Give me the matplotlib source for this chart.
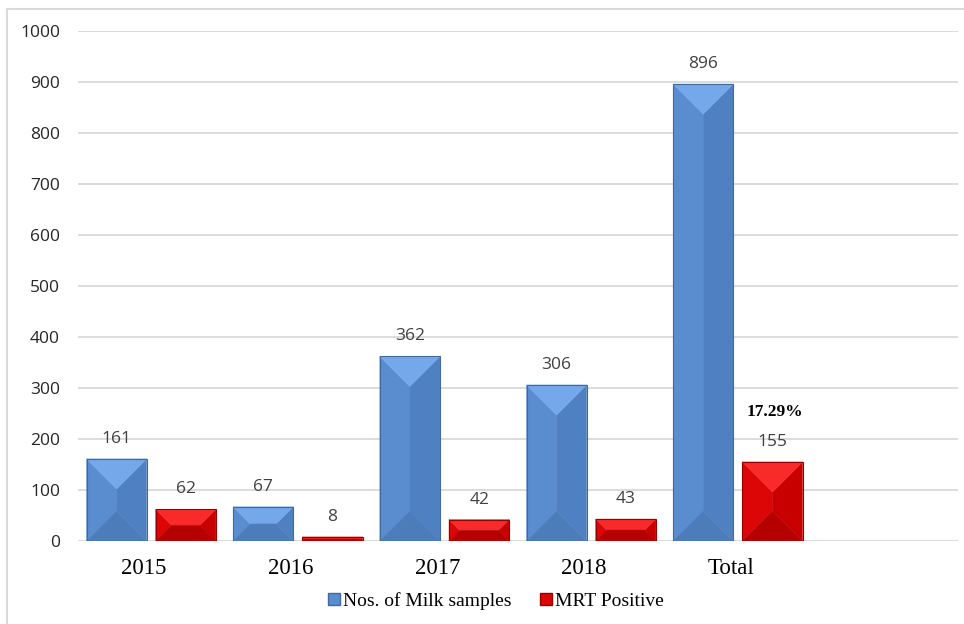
import numpy as np
import matplotlib.pyplot as plt
from matplotlib.patches import Polygon, Patch
from matplotlib.lines import Line2D

# data
categories = ['2015', '2016', '2017', '2018', 'Total', '']
milk_samples = [161, 67, 362, 306, 896]
mrt_positive = [62, 8, 42, 43, 155]
yticks = [0, 100, 200, 300, 400, 500, 600, 700, 800, 900, 1000]
percent_note = '17.29%'

blue = {'left': '#5a8dd0', 'right': '#4f80c1', 'top': '#74a8eb', 'bottom': '#4d7cba', 'edge': '#41699c'}
red = {'left': '#dc0606', 'right': '#c80000', 'top': '#f82a2a', 'bottom': '#b60000', 'edge': '#960000'}

W, H = 964, 624
fig = plt.figure(figsize=(W / 100, H / 100), dpi=100)
ax = fig.add_axes([78 / W, (H - 541) / H, 880 / W, 510 / H])
ax.set_xlim(-0.5, len(categories) - 0.5)
ax.set_ylim(0, 1000)

# pixels per data unit (for the 45 degree bevel)
sx = 880 / len(categories)
sy = 510 / 1000


def bevel(ax, bar, sh):
    x0, w, h = bar.get_x(), bar.get_width(), bar.get_height()
    d = min(w * sx, h * sy) / 2
    dx, dy = d / sx, d / sy
    x1 = x0 + w
    tl, tr, br, bl = (x0, h), (x1, h), (x1, 0), (x0, 0)
    p1, p2, p3, p4 = (x0 + dx, h - dy), (x1 - dx, h - dy), (x1 - dx, dy), (x0 + dx, dy)
    for pts, key in [([bl, tl, p1, p4], 'left'), ([tr, br, p3, p2], 'right'),
                     ([tl, tr, p2, p1], 'top'), ([br, bl, p4, p3], 'bottom')]:
        ax.add_patch(Polygon(pts, closed=True, facecolor=sh[key], edgecolor=sh[key],
                             lw=0.3, zorder=2))


x = np.arange(len(milk_samples))
bw = 0.41
b1 = ax.bar(x - 0.237, milk_samples, bw, facecolor='none', edgecolor=blue['edge'], lw=0.8, zorder=3)
b2 = ax.bar(x + 0.235, mrt_positive, bw, facecolor='none', edgecolor=red['edge'], lw=0.8, zorder=3)
for b in b1:
    bevel(ax, b, blue)
for b in b2:
    bevel(ax, b, red)

for bars, vals in [(b1, milk_samples), (b2, mrt_positive)]:
    for b, v in zip(bars, vals):
        ax.annotate(str(v), (b.get_x() + b.get_width() / 2, v), xytext=(0, 14.4),
                    textcoords='offset points', ha='center', va='center',
                    fontsize=12.5, family='Open Sans', color='#404040')

last = b2[-1]
ax.annotate(percent_note, (last.get_x() + last.get_width() / 2, mrt_positive[-1]),
            xytext=(1.5, 36), textcoords='offset points', ha='center', va='center',
            fontsize=12.5, fontweight='bold', family='Liberation Serif', color='black')

ax.set_yticks(yticks)
ax.set_yticklabels([str(t) for t in yticks], family='Open Sans', fontsize=12.5, color='#262626')
ax.set_xticks(np.arange(len(categories)) - 0.05)
ax.set_xticklabels(categories, family='Liberation Serif', fontsize=16.5)
ax.tick_params(axis='both', length=0)
ax.tick_params(axis='y', pad=13)
ax.tick_params(axis='x', pad=12)
ax.yaxis.grid(True, color='#d9d9d9', lw=1.3)
ax.set_axisbelow(True)
for s in ax.spines.values():
    s.set_visible(False)

handles = [Patch(facecolor=blue['left'], edgecolor=blue['edge'], label='Nos. of Milk samples'),
           Patch(facecolor=red['left'], edgecolor=red['edge'], label='MRT Positive')]
fig.legend(handles=handles, loc='center', bbox_to_anchor=(496 / W, 1 - 601 / H), ncol=2,
           frameon=False, prop={'family': 'Liberation Serif', 'size': 14},
           handlelength=0.6, handleheight=0.6, handletextpad=0.15, columnspacing=1.5)

# outer chart border (left and top visible)
fig.add_artist(Line2D([7 / W, 7 / W], [0, 1 - 9 / H], color='#d9d9d9', lw=1.5))
fig.add_artist(Line2D([7 / W, 1], [1 - 9 / H, 1 - 9 / H], color='#d9d9d9', lw=1.5))

fig.savefig('out.png', dpi=100)
